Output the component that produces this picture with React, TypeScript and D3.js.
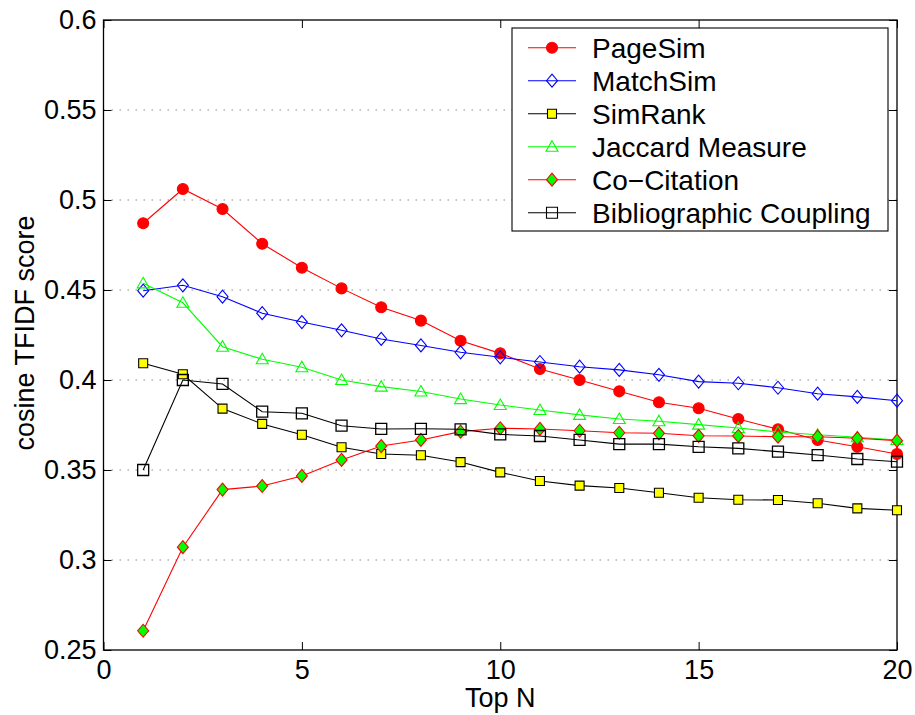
import React, { useEffect, useRef } from 'react'
import * as d3 from 'd3'

const topN = [1, 2, 3, 4, 5, 6, 7, 8, 9, 10, 11, 12, 13, 14, 15, 16, 17, 18, 19, 20]

const pageSim = [0.4871, 0.5061, 0.495, 0.4757, 0.4624, 0.4509, 0.4404, 0.433, 0.4218, 0.4148, 0.4061, 0.4, 0.3937, 0.3876, 0.3843, 0.3783, 0.3726, 0.3667, 0.3629, 0.3589]
const matchSim = [0.4496, 0.4526, 0.4463, 0.4371, 0.4322, 0.4276, 0.4228, 0.4192, 0.4154, 0.4126, 0.41, 0.4074, 0.4056, 0.4029, 0.3991, 0.3982, 0.3957, 0.3924, 0.3906, 0.3885]
const simRank = [0.4093, 0.4032, 0.3841, 0.3756, 0.3696, 0.3626, 0.3589, 0.3582, 0.3544, 0.3487, 0.3439, 0.3413, 0.34, 0.3374, 0.3346, 0.3335, 0.3333, 0.3315, 0.3287, 0.3276]
const jaccard = [0.4537, 0.4429, 0.4185, 0.4115, 0.4071, 0.4, 0.3963, 0.3936, 0.3894, 0.3861, 0.3833, 0.3806, 0.3783, 0.3771, 0.3752, 0.3733, 0.3711, 0.3696, 0.3682, 0.3667]
const coCitation = [0.2607, 0.3071, 0.3391, 0.3411, 0.3467, 0.3556, 0.3633, 0.3667, 0.3713, 0.3732, 0.3728, 0.3718, 0.3707, 0.3704, 0.369, 0.3689, 0.3685, 0.3685, 0.3676, 0.3663]
const biblio = [0.35, 0.4, 0.3978, 0.3824, 0.3815, 0.3746, 0.3728, 0.3729, 0.3726, 0.3698, 0.3689, 0.3667, 0.3644, 0.3644, 0.3629, 0.362, 0.3602, 0.3583, 0.3561, 0.3546]

const xTicks = [0, 5, 10, 15, 20]
const yTicks = [0.25, 0.3, 0.35, 0.4, 0.45, 0.5, 0.55, 0.6]
const yTickLabels = ['0.25', '0.3', '0.35', '0.4', '0.45', '0.5', '0.55', '0.6']

const series = [
  { name: 'PageSim', values: pageSim, line: '#ff0000', marker: 'circle', fill: '#ff0000', stroke: '#ff0000' },
  { name: 'MatchSim', values: matchSim, line: '#0000ff', marker: 'diamond', fill: 'none', stroke: '#0000ff' },
  { name: 'SimRank', values: simRank, line: '#000000', marker: 'smallsquare', fill: '#ffff00', stroke: '#000000' },
  { name: 'Jaccard Measure', values: jaccard, line: '#00ff00', marker: 'triangle', fill: 'none', stroke: '#00ff00' },
  { name: 'Co\u2212Citation', values: coCitation, line: '#ff0000', marker: 'diamond', fill: '#00ff00', stroke: '#ff0000' },
  { name: 'Bibliographic Coupling', values: biblio, line: '#000000', marker: 'square', fill: 'none', stroke: '#000000' },
]

const FONT = '"Liberation Sans", Arial, Helvetica, sans-serif'

function markerPath(kind: string) {
  switch (kind) {
    case 'circle':
      return 'M5.5,0A5.5,5.5,0,1,1,-5.5,0A5.5,5.5,0,1,1,5.5,0Z'
    case 'diamond':
      return 'M0,-6.5L5.5,0L0,6.5L-5.5,0Z'
    case 'smallsquare':
      return 'M-4.5,-4.5H4.5V4.5H-4.5Z'
    case 'square':
      return 'M-5.5,-5.5H5.5V5.5H-5.5Z'
    case 'triangle':
      return 'M0,-6L6,4.5H-6Z'
  }
  return ''
}

export default function App() {
  const ref = useRef<SVGSVGElement>(null)

  useEffect(() => {
    const svg = d3.select(ref.current)
    svg.selectAll('*').remove()

    const left = 103.5
    const right = 897
    const top = 20
    const bottom = 650

    const x = d3.scaleLinear().domain([0, 20]).range([left, right])
    const y = d3.scaleLinear().domain([0.25, 0.6]).range([bottom, top])

    svg.append('rect').attr('width', 915).attr('height', 715).attr('fill', '#fff')

    // grid
    svg
      .append('g')
      .selectAll('line')
      .data(yTicks.slice(1, -1))
      .join('line')
      .attr('x1', left)
      .attr('x2', right)
      .attr('y1', d => y(d))
      .attr('y2', d => y(d))
      .attr('stroke', '#8a8a8a')
      .attr('stroke-width', 1)
      .attr('stroke-dasharray', '1.5,6.5')

    // axes (inward ticks)
    const ax = (g: any) => {
      g.select('.domain').remove()
      g.selectAll('.tick line').attr('stroke', '#000')
      g.selectAll('text').style('font-family', FONT).style('font-size', '27px').attr('fill', '#000')
    }
    svg
      .append('g')
      .attr('transform', `translate(0,${bottom})`)
      .call(d3.axisBottom(x).tickValues(xTicks).tickSize(-8).tickPadding(10).tickFormat(d3.format('d')))
      .call(ax)
    svg
      .append('g')
      .attr('transform', `translate(0,${top})`)
      .call(d3.axisTop(x).tickValues(xTicks).tickSize(-8).tickFormat(() => ''))
      .call(ax)
    svg
      .append('g')
      .attr('transform', `translate(${left},0)`)
      .call(d3.axisLeft(y).tickValues(yTicks).tickSize(-8).tickPadding(7).tickFormat((_d, i) => yTickLabels[i]))
      .call(ax)
    svg
      .append('g')
      .attr('transform', `translate(${right},0)`)
      .call(d3.axisRight(y).tickValues(yTicks).tickSize(-8).tickFormat(() => ''))
      .call(ax)

    svg
      .append('rect')
      .attr('x', left)
      .attr('y', top)
      .attr('width', right - left)
      .attr('height', bottom - top)
      .attr('fill', 'none')
      .attr('stroke', '#000')
      .attr('stroke-width', 1.3)

    // axis labels
    svg
      .append('text')
      .attr('x', (left + right) / 2)
      .attr('y', 707)
      .attr('text-anchor', 'middle')
      .style('font-family', FONT)
      .style('font-size', '27px')
      .text('Top N')
    svg
      .append('text')
      .attr('transform', `translate(33.5,${333}) rotate(-90)`)
      .attr('text-anchor', 'middle')
      .style('font-family', FONT)
      .style('font-size', '27px')
      .text('cosine TFIDF score')

    // series
    const line = d3
      .line<number>()
      .x((_d, i) => x(topN[i]))
      .y(d => y(d))

    series.forEach(s => {
      const g = svg.append('g')
      g.append('path')
        .attr('d', line(s.values))
        .attr('fill', 'none')
        .attr('stroke', s.line)
        .attr('stroke-width', 1.1)
      g.selectAll('path.m')
        .data(s.values)
        .join('path')
        .attr('class', 'm')
        .attr('transform', (d, i) => `translate(${x(topN[i])},${y(d)})`)
        .attr('d', markerPath(s.marker))
        .attr('fill', s.fill)
        .attr('stroke', s.stroke)
        .attr('stroke-width', s.marker === 'square' ? 1.3 : 1.1)
    })

    // legend
    const lg = svg.append('g')
    lg.append('rect')
      .attr('x', 512)
      .attr('y', 28)
      .attr('width', 376)
      .attr('height', 203)
      .attr('fill', '#fff')
      .attr('stroke', '#000')
      .attr('stroke-width', 1.1)
    series.forEach((s, i) => {
      const cy = 47.7 + i * 33
      lg.append('line')
        .attr('x1', 528)
        .attr('x2', 576)
        .attr('y1', cy)
        .attr('y2', cy)
        .attr('stroke', s.line)
        .attr('stroke-width', 1.1)
      lg.append('path')
        .attr('transform', `translate(552,${cy})`)
        .attr('d', markerPath(s.marker))
        .attr('fill', s.fill)
        .attr('stroke', s.stroke)
        .attr('stroke-width', 1.1)
      lg.append('text')
        .attr('x', 592)
        .attr('y', cy)
        .attr('dy', '0.36em')
        .style('font-family', FONT)
        .style('font-size', '28px')
        .text(s.name)
    })
  }, [])

  return (
    <svg
      ref={ref}
      width={915}
      height={715}
      style={{ position: 'absolute', left: 0, top: 0, display: 'block' }}
    ></svg>
  )
}
